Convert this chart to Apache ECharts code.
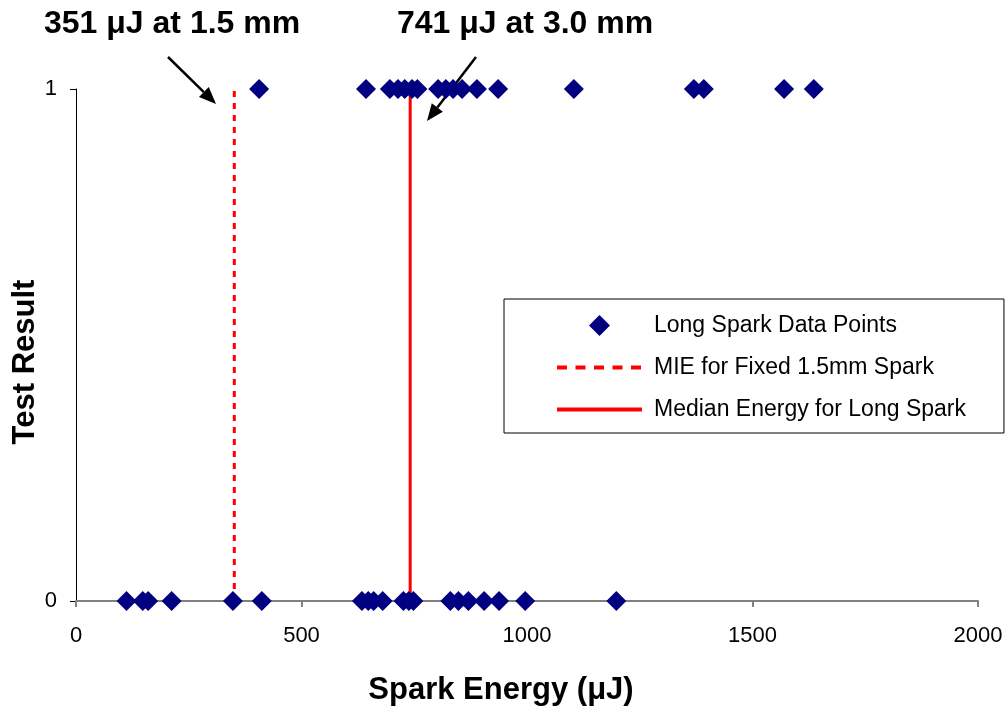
<!DOCTYPE html>
<html>
<head>
<meta charset="utf-8">
<script src="https://cdn.jsdelivr.net/npm/echarts@6/dist/echarts.min.js"></script>
<style>html,body{margin:0;padding:0;background:#fff}#c{width:1005px;height:706px}</style>
</head>
<body>
<div id="c"></div>
<script>
// Data
var passEnergies = [406, 643, 696, 714, 729, 745, 757, 803, 820, 836, 856, 889, 936, 1104, 1370, 1392, 1570, 1636]; // Test Result = 1
var failEnergies = [112, 148, 160, 212, 348, 412, 634, 648, 660, 680, 726, 738, 748, 830, 848, 870, 905, 938, 996, 1198]; // Test Result = 0
var mieFixed = 351;      // MIE for Fixed 1.5mm Spark
var medianLong = 741;    // Median Energy for Long Spark
var xTicks = [0, 500, 1000, 1500, 2000];
var yTicks = [0, 1];
var seriesNames = ['Long Spark Data Points', 'MIE for Fixed 1.5mm Spark', 'Median Energy for Long Spark'];
var annotations = ['351 \u03bcJ at 1.5 mm', '741 \u03bcJ at 3.0 mm'];

var FONT = '"Liberation Sans", Arial, sans-serif';
var scatterData = passEnergies.map(function (e) { return [e, 1]; })
  .concat(failEnergies.map(function (e) { return [e, 0]; }));

function arrow(x1, y1, x2, y2) {
  var dx = x2 - x1, dy = y2 - y1, L = Math.sqrt(dx * dx + dy * dy);
  var ux = dx / L, uy = dy / L, hl = 17, hw = 7;
  var bx = x2 - ux * hl, by = y2 - uy * hl;
  return [
    { type: 'line', shape: { x1: x1, y1: y1, x2: bx, y2: by }, style: { stroke: '#000', lineWidth: 2.5 } },
    { type: 'polygon', shape: { points: [[x2, y2], [bx - uy * hw, by + ux * hw], [bx + uy * hw, by - ux * hw]] }, style: { fill: '#000' } }
  ];
}

var chart = echarts.init(document.getElementById('c'), null, { renderer: 'canvas' });
chart.setOption({
  animation: false,
  backgroundColor: '#fff',
  textStyle: { fontFamily: FONT },
  grid: { left: 76, right: 27, top: 89, bottom: 105, containLabel: false, outerBoundsMode: 'none' },
  xAxis: {
    type: 'value', min: xTicks[0], max: xTicks[xTicks.length - 1], interval: 500,
    name: 'Spark Energy (\u03bcJ)', nameLocation: 'middle', nameGap: 74, nameMoveOverlap: false,
    nameTextStyle: { fontFamily: FONT, fontWeight: 'bold', fontSize: 31, color: '#000', padding: [0, 52, 0, 0] },
    axisLine: { lineStyle: { color: '#808080', width: 2 } },
    axisTick: { show: true, inside: false, length: 6, lineStyle: { color: '#808080', width: 2 } },
    axisLabel: { fontFamily: FONT, fontSize: 22, color: '#000', margin: 24, formatter: function (v) { return String(v); } },
    splitLine: { show: false }
  },
  yAxis: {
    type: 'value', min: yTicks[0], max: yTicks[yTicks.length - 1], interval: 1,
    name: 'Test Result', nameLocation: 'middle', nameGap: 35, nameMoveOverlap: false,
    nameTextStyle: { fontFamily: FONT, fontWeight: 'bold', fontSize: 31, color: '#000', padding: [0, 34, 0, 0] },
    axisLine: { show: true, lineStyle: { color: '#000', width: 1 } },
    axisTick: { show: true, inside: false, length: 6, lineStyle: { color: '#000', width: 1 } },
    axisLabel: { fontFamily: FONT, fontSize: 22, color: '#000', margin: 19 },
    splitLine: { show: false }
  },
  legend: {
    left: 504, top: 299, orient: 'vertical',
    padding: [15, 38, 12, 51],
    itemWidth: 85, itemHeight: 21, itemGap: 19,
    borderColor: '#000', borderWidth: 1, backgroundColor: '#fff',
    textStyle: { fontFamily: FONT, fontSize: 23, color: '#000', lineHeight: 20, padding: [0, 0, 0, 7] },
    data: [
      { name: seriesNames[0], icon: 'path://M10,0L20,10L10,20L0,10Z' },
      { name: seriesNames[1], itemStyle: { opacity: 0, color: 'rgba(0,0,0,0)', borderWidth: 0 }, lineStyle: { width: 4, type: [10, 8.5] } },
      { name: seriesNames[2], itemStyle: { opacity: 0, color: 'rgba(0,0,0,0)', borderWidth: 0 }, lineStyle: { width: 4 } }
    ]
  },
  series: [
    {
      name: seriesNames[1], type: 'line', symbol: 'none', z: 2,
      lineStyle: { color: '#ff0000', width: 3, type: [6, 6] },
      itemStyle: { color: '#ff0000' },
      data: [[mieFixed, yTicks[0]], [mieFixed, yTicks[1]]]
    },
    {
      name: seriesNames[2], type: 'line', symbol: 'none', z: 2,
      lineStyle: { color: '#ff0000', width: 3 },
      itemStyle: { color: '#ff0000' },
      data: [[medianLong, yTicks[0]], [medianLong, yTicks[1]]]
    },
    {
      name: seriesNames[0], type: 'scatter', symbol: 'diamond', symbolSize: 20, z: 3,
      itemStyle: { color: '#000080', opacity: 1 },
      data: scatterData
    }
  ],
  graphic: [
    { type: 'text', left: 44, top: 8, style: { text: annotations[0], font: 'bold 32px ' + FONT, fill: '#000' } },
    { type: 'text', left: 397, top: 8, style: { text: annotations[1], font: 'bold 32px ' + FONT, fill: '#000' } }
  ].concat(arrow(168, 57, 216, 104)).concat(arrow(476, 57, 427, 121))
});
</script>
</body>
</html>
